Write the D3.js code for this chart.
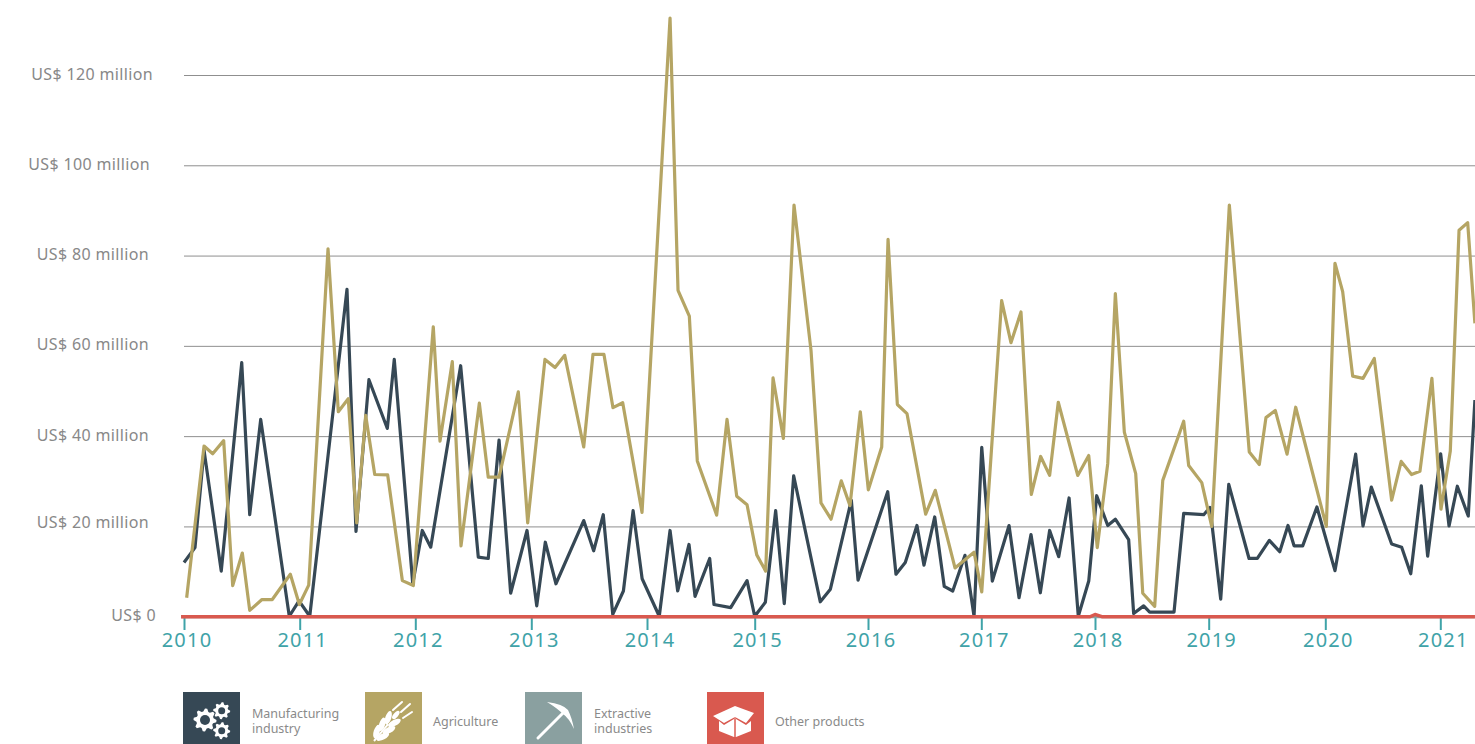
<!DOCTYPE html>
<html>
<head>
<meta charset="utf-8">
<script src="https://cdn.jsdelivr.net/npm/d3@7"></script>
<style>
  html, body { margin: 0; padding: 0; background: #fff; overflow: hidden; }
  svg { display: block; }
  svg text { font-family: "Noto Sans", sans-serif; }
  .y-axis text { fill: #888; font-size: 16px; letter-spacing: 0.35px; }
  .x-axis text { fill: #3fa3a8; font-size: 20px; letter-spacing: 1.2px; }
  .legend text { fill: #8a8a8a; font-size: 12.5px; }
</style>
</head>
<body>
<svg id="chart" width="1475" height="744"></svg>
<script>
// values: x in decimal years, y in US$ million
const years = [2010, 2011, 2012, 2013, 2014, 2015, 2016, 2017, 2018, 2019, 2020, 2021];
const yTicks = [0, 20, 40, 60, 80, 100, 120];

const manufacturingX = [2010, 2010.095, 2010.173, 2010.322, 2010.499, 2010.568, 2010.663, 2010.91, 2010.994, 2011.087, 2011.409, 2011.487, 2011.599, 2011.758, 2011.818, 2011.978,
  2012.06, 2012.133, 2012.391, 2012.543, 2012.629, 2012.722, 2012.822, 2012.963, 2013.047, 2013.121, 2013.213, 2013.453, 2013.539, 2013.622, 2013.704, 2013.796, 2013.88, 2013.958,
  2014.114, 2014.214, 2014.285, 2014.39, 2014.446, 2014.582, 2014.622, 2014.777, 2014.929, 2015, 2015.094, 2015.185, 2015.261, 2015.344, 2015.579, 2015.668, 2015.853, 2015.912,
  2016.174, 2016.247, 2016.329, 2016.432, 2016.494, 2016.589, 2016.673, 2016.748, 2016.856, 2016.936, 2017.004, 2017.097, 2017.244, 2017.332, 2017.437, 2017.519, 2017.601, 2017.681, 2017.772, 2017.853, 2017.945,
  2018.015, 2018.112, 2018.179, 2018.296, 2018.34, 2018.428, 2018.481, 2018.695, 2018.78, 2018.956, 2019.011, 2019.103, 2019.172, 2019.346, 2019.417, 2019.52, 2019.609, 2019.68, 2019.732, 2019.806, 2019.928,
  2020.084, 2020.264, 2020.328, 2020.4, 2020.577, 2020.664, 2020.743, 2020.835, 2020.89, 2021.003, 2021.076, 2021.148, 2021.243, 2021.301];
const manufacturingY = [12.0, 15.3, 36.9, 10.1, 56.3, 22.6, 43.7, 0.1, 3.5, 0.1, 72.5, 18.9, 52.5, 41.7, 57.0, 7.3,
  19.1, 15.4, 55.6, 13.2, 12.9, 39.1, 5.2, 19.1, 2.4, 16.5, 7.3, 21.3, 14.6, 22.6, 0.5, 5.7, 23.5, 8.4,
  0.1, 19.1, 5.7, 16.0, 4.5, 12.9, 2.7, 2.0, 8.0, 0.1, 3.2, 23.5, 2.9, 31.2, 3.3, 6.1, 25.8, 8.1,
  27.7, 9.4, 12.0, 20.2, 11.4, 22.1, 6.7, 5.7, 13.6, 0.1, 37.5, 7.9, 20.2, 4.2, 18.2, 5.3, 19.1, 13.3, 26.3, 0.1, 7.9,
  26.8, 20.2, 21.6, 17.1, 0.7, 2.4, 1.0, 1.0, 22.9, 22.6, 24.2, 3.9, 29.3, 12.9, 12.9, 16.9, 14.4, 20.2, 15.7, 15.7, 24.3,
  10.2, 36.0, 20.1, 28.7, 16.1, 15.4, 9.5, 29.0, 13.4, 36.1, 20.1, 28.9, 22.3, 48.0];

const agricultureX = [2010.023, 2010.173, 2010.248, 2010.343, 2010.421, 2010.504, 2010.568, 2010.674, 2010.763, 2010.919, 2010.997, 2011.078, 2011.245, 2011.334, 2011.42, 2011.493, 2011.571, 2011.649, 2011.761, 2011.888, 2011.983,
  2012.155, 2012.213, 2012.319, 2012.394, 2012.552, 2012.629, 2012.722, 2012.888, 2012.969, 2013.118, 2013.205, 2013.289, 2013.453, 2013.533, 2013.628, 2013.706, 2013.79, 2013.957,
  2014.214, 2014.288, 2014.393, 2014.467, 2014.647, 2014.743, 2014.833, 2014.929, 2015.018, 2015.097, 2015.162, 2015.253, 2015.347, 2015.497, 2015.585, 2015.674, 2015.764, 2015.841, 2015.932,
  2016.003, 2016.121, 2016.177, 2016.259, 2016.344, 2016.509, 2016.594, 2016.768, 2016.936, 2017.004, 2017.179, 2017.261, 2017.349, 2017.44, 2017.522, 2017.601, 2017.677, 2017.848, 2017.945,
  2018.02, 2018.112, 2018.179, 2018.258, 2018.358, 2018.42, 2018.525, 2018.596, 2018.78, 2018.824, 2018.939, 2019.026, 2019.177, 2019.348, 2019.434, 2019.491, 2019.571, 2019.672, 2019.746,
  2020.009, 2020.084, 2020.151, 2020.238, 2020.328, 2020.426, 2020.577, 2020.66, 2020.75, 2020.823, 2020.927, 2021.006, 2021.087, 2021.163, 2021.238, 2021.301];
const agricultureY = [4.2, 37.8, 36.1, 39.0, 6.9, 14.1, 1.4, 3.8, 3.8, 9.4, 2.7, 7.0, 81.5, 45.4, 48.3, 20.8, 44.6, 31.5, 31.4, 8.0, 6.9,
  64.2, 38.9, 56.5, 15.7, 47.3, 30.9, 30.9, 49.8, 20.8, 57.0, 55.2, 57.9, 37.6, 58.1, 58.1, 46.3, 47.4, 23.1,
  132.6, 72.3, 66.6, 34.5, 22.5, 43.7, 26.7, 24.8, 13.7, 10.1, 52.9, 39.5, 91.2, 59.0, 25.2, 21.6, 30.1, 24.6, 45.4,
  28.1, 37.6, 83.6, 47.0, 45.0, 22.7, 28.0, 10.8, 14.3, 5.5, 70.0, 60.7, 67.5, 27.1, 35.5, 31.3, 47.5, 31.3, 35.7,
  15.3, 33.9, 71.6, 40.9, 31.7, 5.2, 2.3, 30.2, 43.3, 33.5, 29.7, 20.0, 91.2, 36.5, 33.7, 44.1, 45.7, 36.0, 46.4,
  20.0, 78.3, 72.0, 53.3, 52.8, 57.2, 25.8, 34.4, 31.5, 32.2, 52.8, 23.8, 36.7, 85.6, 87.3, 65.0];

// both of these sit on the baseline, extractive stays hidden under other products
const extractiveX = [2009.975, 2021.301];
const extractiveY = [0, 0];
const otherX = [2009.975, 2017.956, 2018, 2018.06, 2021.301];
const otherY = [0, 0, 0.5, 0, 0];

const legendLabels = [["Manufacturing", "industry"], ["Agriculture"], ["Extractive", "industries"], ["Other products"]];

const colors = { manufacturing: "#364855", agriculture: "#b5a564", extractive: "#8aa0a0", other: "#d9594f", tick: "#3fa3a8", grid: "#8f8f8f" };

const svg = d3.select("#chart");

// the original year ticks are not evenly spaced, so the x scale is piecewise
const yearPx = [184, 299.7, 415.3, 531.3, 647, 754.7, 868, 981.3, 1095, 1208.7, 1325.3, 1440.3];
const x = d3.scaleLinear().domain(years).range(yearPx);
const y = d3.scaleLinear().domain([0, 120]).range([616.7, 75]);

// y axis + grid
const yLabelEnd = { 0: 156, 20: 149, 40: 149, 60: 149, 80: 149, 100: 150, 120: 153 };
const yLabelShift = { 0: 0, 20: -3, 40: 0, 60: 0, 80: 0, 100: 0, 120: 0 };

const yAxis = svg.append("g")
  .attr("class", "y-axis")
  .attr("transform", "translate(184,0)")
  .call(d3.axisLeft(y)
    .tickValues(yTicks)
    .tickSize(0)
    .tickFormat(d => d === 0 ? "US$ 0" : "US$ " + d + " million"));
yAxis.select(".domain").remove();
yAxis.selectAll(".tick").append("line")
  .attr("x2", 1291)
  .attr("stroke", colors.grid)
  .attr("stroke-width", 1)
  .attr("y1", 0).attr("y2", 0);
yAxis.selectAll(".tick text")
  .attr("x", d => yLabelEnd[d] - 184)
  .attr("y", d => yLabelShift[d] - 1);

// x axis
const xAxis = svg.append("g")
  .attr("class", "x-axis")
  .attr("transform", "translate(0,618)")
  .call(d3.axisBottom(x).tickValues(years).tickSize(12).tickPadding(3).tickFormat(d3.format("d")));
xAxis.select(".domain").remove();
xAxis.selectAll("line").attr("stroke", colors.tick).attr("stroke-width", 2);
xAxis.selectAll("text").attr("dx", 2.5);

// series
const line = d3.line().x(d => x(d[0])).y(d => y(d[1]));

function drawSeries(xs, ys, color, width) {
  svg.append("path")
    .datum(d3.zip(xs, ys))
    .attr("d", line)
    .attr("fill", "none")
    .attr("stroke", color)
    .attr("stroke-width", width)
    .attr("stroke-linejoin", "round");
}

drawSeries(manufacturingX, manufacturingY, colors.manufacturing, 3.2);
drawSeries(agricultureX, agricultureY, colors.agriculture, 3.2);
drawSeries(extractiveX, extractiveY, colors.extractive, 3.2);
drawSeries(otherX, otherY, colors.other, 3.4);

// legend icons
function gearPath(cx, cy, r, teeth) {
  const pts = [];
  for (let k = 0; k < teeth * 4; k++) {
    const a = k / (teeth * 4) * 2 * Math.PI;
    const rr = (k % 4 < 2) ? r : r * 0.76;
    pts.push([cx + rr * Math.cos(a), cy + rr * Math.sin(a)]);
  }
  return "M" + pts.join("L") + "Z";
}

function drawGears(g, bg) {
  [[22, 28, 11.5, 8, 5], [38.7, 18.7, 8.5, 8, 3.5], [38.7, 38.7, 8.5, 8, 3.5]].forEach(c => {
    g.append("path").attr("d", gearPath(c[0], c[1], c[2], c[3])).attr("fill", "#fff");
    g.append("circle").attr("cx", c[0]).attr("cy", c[1]).attr("r", c[4]).attr("fill", bg);
  });
}

function drawWheat(g, bg) {
  // awns, then the grains along a tilted stalk
  [[28, 18, 37, 10], [36, 20, 45, 12], [38, 26, 47, 20]].forEach(a => {
    g.append("line")
      .attr("x1", a[0]).attr("y1", a[1])
      .attr("x2", a[2]).attr("y2", a[3])
      .attr("stroke", "#fff").attr("stroke-width", 2).attr("stroke-linecap", "round");
  });
  const w = g.append("g").attr("transform", "translate(9,49) rotate(-50)");
  w.append("line").attr("x1", 0).attr("x2", 22).attr("y1", 0).attr("y2", 0).attr("stroke", "#fff").attr("stroke-width", 2);
  [[9, -4], [9, 4], [18, -4.5], [18, 4.5], [27, -4], [27, 4]].forEach(p => {
    w.append("ellipse")
      .attr("cx", p[0]).attr("cy", p[1])
      .attr("rx", 7).attr("ry", 3)
      .attr("transform", `rotate(${p[1] < 0 ? -22 : 22} ${p[0]} ${p[1]})`)
      .attr("fill", "#fff");
  });
  w.append("ellipse").attr("cx", 34).attr("cy", 0).attr("rx", 5).attr("ry", 2.4).attr("fill", "#fff");
}

function drawPick(g, bg) {
  g.append("line").attr("x1", 13).attr("y1", 46).attr("x2", 40).attr("y2", 19)
    .attr("stroke", "#fff").attr("stroke-width", 3).attr("stroke-linecap", "round");
  g.append("path").attr("d", "M22,10 Q38,12 43,18 Q47,26 49,37 Q44,26 38,22 Q32,16 22,10Z").attr("fill", "#fff");
}

function drawBox(g, bg) {
  g.append("path").attr("d", "M28,14 L47,21 L39,31 L28,25 L17,31 L6,24 Z").attr("fill", "#fff");
  g.append("path").attr("d", "M12,29 L17,33 L27,27 L27,45 L12,39 Z").attr("fill", "#fff");
  g.append("path").attr("d", "M44,29 L39,33 L29,27 L29,45 L44,39 Z").attr("fill", "#fff");
  g.append("path").attr("d", "M28,25 L28,45").attr("stroke", "#f0b0aa").attr("stroke-width", 1);
}

const icons = [drawGears, drawWheat, drawPick, drawBox];

// legend
const legendX = [183, 365, 525, 707];
const legendTextX = [252, 433, 594, 775];
const legendColors = [colors.manufacturing, colors.agriculture, colors.extractive, colors.other];
const legendBaselines = [[718, 733], [726], [718, 733], [726]];

const legend = svg.append("g").attr("class", "legend");

legendX.forEach((lx, i) => {
  const g = legend.append("g").attr("transform", `translate(${lx},692)`);
  g.append("rect").attr("width", 57).attr("height", 52).attr("fill", legendColors[i]);
  icons[i](g.append("g"), legendColors[i]);
  legendLabels[i].forEach((t, j) => {
    legend.append("text")
      .attr("x", legendTextX[i])
      .attr("y", legendBaselines[i][j])
      .text(t);
  });
});
</script>
</body>
</html>
